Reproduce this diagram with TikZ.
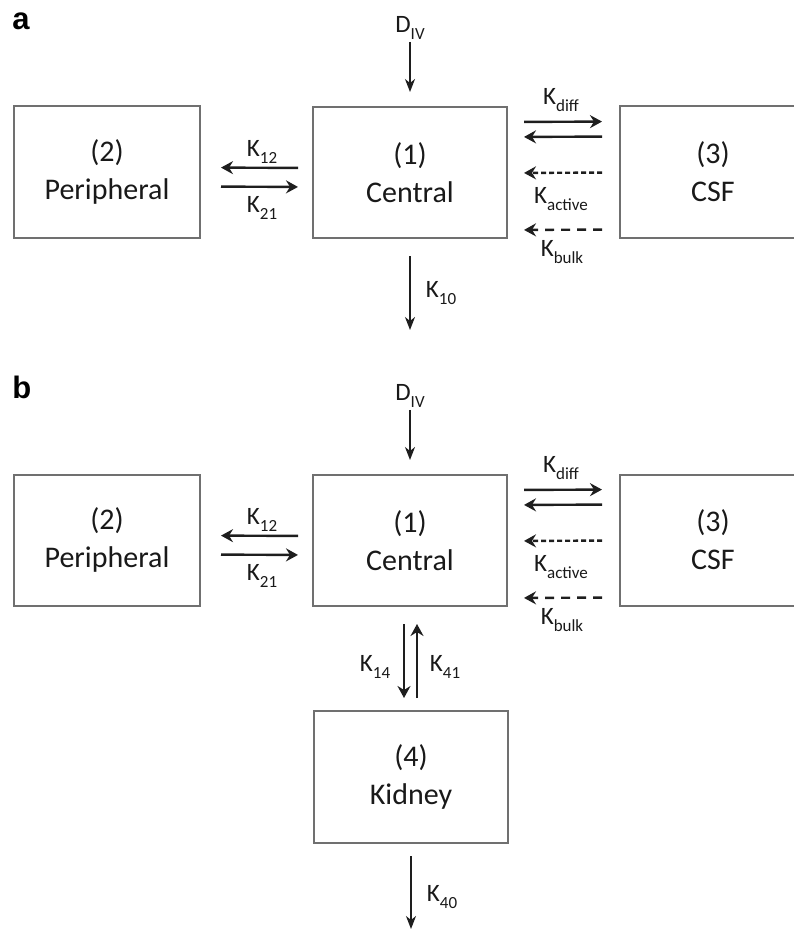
\documentclass[tikz,border=0pt]{standalone}
\usepackage{fontspec}
\setmainfont{Carlito}
\newfontfamily\panelfont{Liberation Sans}
\usetikzlibrary{arrows.meta}

\definecolor{boxgray}{RGB}{112,112,112}
\definecolor{arrowgray}{RGB}{30,30,30}

\newcommand{\lowsub}[1]{\raisebox{-0.55ex}{\fontsize{17}{17}\selectfont #1}}

\tikzset{every picture/.style={line width=1pt}}
\tikzset{
	box/.style={draw=boxgray, line width=2pt, minimum height=131pt, align=center, text=black!90, font=\fontsize{30}{38}\selectfont},
	rate/.style={inner sep=1pt, text=black!90, font=\fontsize{25}{28}\selectfont},
	panel/.style={anchor=base west, inner sep=0pt, font=\panelfont\bfseries\fontsize{31}{31}\selectfont},
	fatarr/.style={draw=arrowgray, line width=2.4pt, -{Stealth[length=12pt,width=13pt,inset=4pt]}},
	thinarr/.style={draw=arrowgray, line width=1.5pt, -{Stealth[length=13pt,width=10pt,inset=4pt]}},
	activearr/.style={fatarr, dash pattern=on 5pt off 3pt},
	bulkarr/.style={fatarr, dash pattern=on 9pt off 7pt}
}

\begin{document}
\begin{tikzpicture}[x=1pt,y=1pt,yscale=-1]
	\useasboundingbox (0,0) rectangle (794,931);
	\clip (0,0) rectangle (794,931);

	% Panel a: compartments
	\draw (107,172) node [box, minimum width=186pt] (peri_a) {(2)\\Peripheral};
	\draw (410,172.5) node [box, minimum width=194pt] (cent_a) {(1)\\Central};
	\draw (713,172) node [box, minimum width=186pt] (csf_a) {(3)\\CSF};

	% Panel a: dose and elimination
	\draw (12,30) node [panel] (lab_a) {a};
	\draw (410,28) node [rate] (dose_a) {D\lowsub{IV}};
	\coordinate (out_a) at (410,330);
	\draw [thinarr, shorten <=1, shorten >=14] (dose_a.south) -- (cent_a.north);
	\draw [thinarr, shorten <=17] (cent_a.south) -- (out_a);
	\draw (441,293) node [rate] {K\lowsub{10}};

	% Panel a: exchange with peripheral
	\draw [fatarr, shorten <=14, shorten >=20] ([yshift=-4.5]cent_a.west) -- ([yshift=-4.5]peri_a.east);
	\draw [fatarr, shorten <=20, shorten >=14] ([yshift=14.5]peri_a.east) -- ([yshift=14.5]cent_a.west);
	\draw (262,152) node [rate] {K\lowsub{12}};
	\draw (262,208) node [rate] {K\lowsub{21}};

	% Panel a: exchange with CSF
	\draw [fatarr, shorten <=16, shorten >=17] ([yshift=-50.5]cent_a.east) -- ([yshift=-50.5]csf_a.west);
	\draw [fatarr, shorten <=17, shorten >=16] ([yshift=-35.5]csf_a.west) -- ([yshift=-35.5]cent_a.east);
	\draw [activearr, shorten <=17, shorten >=16] ([yshift=0.5]csf_a.west) -- ([yshift=0.5]cent_a.east);
	\draw [bulkarr, shorten <=17, shorten >=16] ([yshift=57.5]csf_a.west) -- ([yshift=57.5]cent_a.east);
	\draw (561,100) node [rate] {K\lowsub{diff}};
	\draw (561,199) node [rate] {K\lowsub{active}};
	\draw (562,252) node [rate] {K\lowsub{bulk}};

	% Panel b: compartments
	\draw (107,540) node [box, minimum width=186pt] (peri_b) {(2)\\Peripheral};
	\draw (410,540.5) node [box, minimum width=194pt] (cent_b) {(1)\\Central};
	\draw (713,540) node [box, minimum width=186pt] (csf_b) {(3)\\CSF};
	\draw (411,777) node [box, minimum width=194pt, minimum height=132pt] (kid_b) {(4)\\Kidney};

	% Panel b: dose and elimination
	\draw (12,398) node [panel] (lab_b) {b};
	\draw (410,396) node [rate] (dose_b) {D\lowsub{IV}};
	\coordinate (out_b) at (411,929);
	\draw [thinarr, shorten <=1, shorten >=14] (dose_b.south) -- (cent_b.north);
	\draw [thinarr, shorten <=12] (kid_b.south) -- (out_b);
	\draw (442,897) node [rate] {K\lowsub{40}};

	% Panel b: exchange with kidney
	\draw [fatarr, shorten <=17, shorten >=12] ([xshift=-6]cent_b.south) -- ([xshift=-7]kid_b.north);
	\draw [fatarr, shorten <=12, shorten >=17] ([xshift=6]kid_b.north) -- ([xshift=7]cent_b.south);
	\draw (375,667) node [rate] {K\lowsub{14}};
	\draw (445,667) node [rate] {K\lowsub{41}};

	% Panel b: exchange with peripheral
	\draw [fatarr, shorten <=14, shorten >=20] ([yshift=-4.5]cent_b.west) -- ([yshift=-4.5]peri_b.east);
	\draw [fatarr, shorten <=20, shorten >=14] ([yshift=14.5]peri_b.east) -- ([yshift=14.5]cent_b.west);
	\draw (262,520) node [rate] {K\lowsub{12}};
	\draw (262,576) node [rate] {K\lowsub{21}};

	% Panel b: exchange with CSF
	\draw [fatarr, shorten <=16, shorten >=17] ([yshift=-50.5]cent_b.east) -- ([yshift=-50.5]csf_b.west);
	\draw [fatarr, shorten <=17, shorten >=16] ([yshift=-35.5]csf_b.west) -- ([yshift=-35.5]cent_b.east);
	\draw [activearr, shorten <=17, shorten >=16] ([yshift=0.5]csf_b.west) -- ([yshift=0.5]cent_b.east);
	\draw [bulkarr, shorten <=17, shorten >=16] ([yshift=57.5]csf_b.west) -- ([yshift=57.5]cent_b.east);
	\draw (561,468) node [rate] {K\lowsub{diff}};
	\draw (561,567) node [rate] {K\lowsub{active}};
	\draw (562,620) node [rate] {K\lowsub{bulk}};
\end{tikzpicture}
\end{document}
